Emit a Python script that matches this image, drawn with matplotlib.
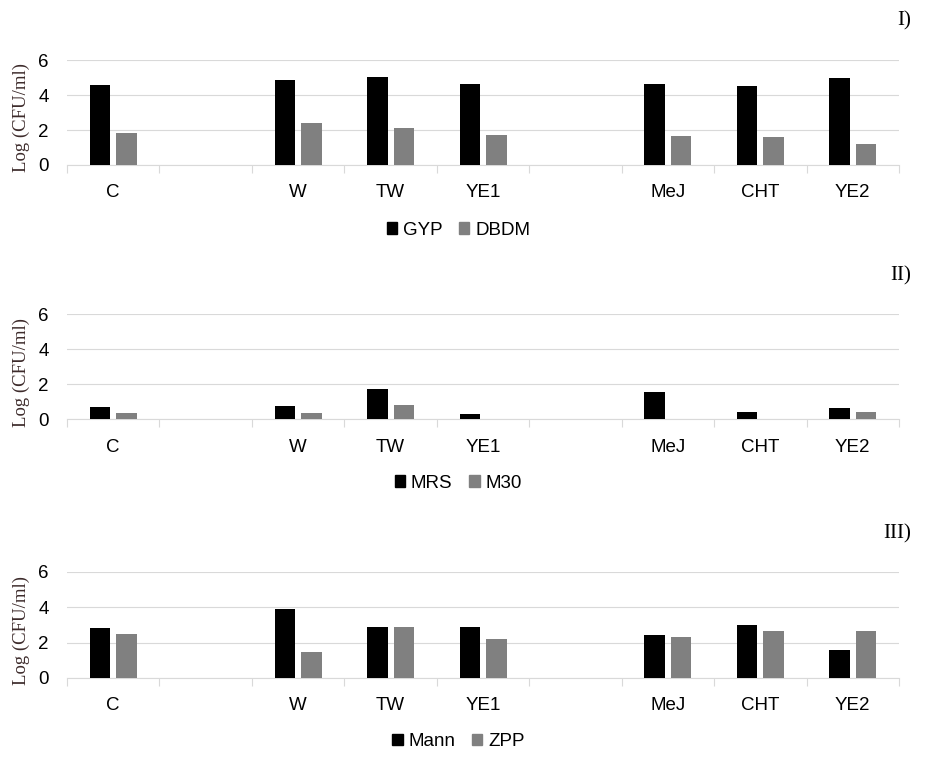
import matplotlib

matplotlib.use("Agg")
import matplotlib.pyplot as plt
import numpy as np
from matplotlib.patches import Patch

# slot order as in the original chart; empty strings are spacer slots
categories = ["C", "", "W", "TW", "YE1", "", "MeJ", "CHT", "YE2"]

gyp = [4.58, np.nan, 4.87, 5.06, 4.62, np.nan, 4.62, 4.53, 4.97]
dbdm = [1.85, np.nan, 2.43, 2.14, 1.72, np.nan, 1.64, 1.60, 1.20]

mrs = [0.69, np.nan, 0.78, 1.73, 0.32, np.nan, 1.54, 0.43, 0.63]
m30 = [0.34, np.nan, 0.34, 0.84, 0.0, np.nan, 0.0, 0.0, 0.42]

mann = [2.81, np.nan, 3.88, 2.86, 2.86, np.nan, 2.45, 2.98, 1.56]
zpp = [2.49, np.nan, 1.49, 2.88, 2.19, np.nan, 2.33, 2.64, 2.66]

panels = [
    ("I)", ("GYP", gyp), ("DBDM", dbdm)),
    ("II)", ("MRS", mrs), ("M30", m30)),
    ("III)", ("Mann", mann), ("ZPP", zpp)),
]
yticks = [0, 2, 4, 6]

BLACK = "#000000"
GRAY = "#808080"
GRID = "#d9d9d9"
SANS = "Liberation Sans"
SERIF = "Liberation Serif"

# axes boxes [left, bottom, width, height] and label anchors, figure fractions
axes_boxes = [
    [0.0722, 0.7863, 0.8966, 0.1356],
    [0.0722, 0.4569, 0.8966, 0.1360],
    [0.0722, 0.1218, 0.8966, 0.1377],
]
legend_y = [0.702, 0.374, 0.039]
tag_y = [0.973, 0.643, 0.308]

fig = plt.figure(figsize=(9.28, 7.72), dpi=100)

x = np.arange(len(categories))
width = 0.222
offset = 0.143

for box, ly, ty, (tag, (name_a, vals_a), (name_b, vals_b)) in zip(
    axes_boxes, legend_y, tag_y, panels
):
    ax = fig.add_axes(box)
    ax.bar(x - offset, vals_a, width, color=BLACK, zorder=3)
    ax.bar(x + offset, vals_b, width, color=GRAY, zorder=3)

    ax.set_xlim(-0.5, len(categories) - 0.5)
    ax.set_ylim(0, 6)
    ax.set_yticks(yticks)
    ax.set_yticklabels([str(t) for t in yticks], fontsize=13.5, family=SANS)
    ax.set_xticks(x)
    ax.set_xticklabels(categories, fontsize=13.5, family=SANS)
    ax.set_xticks(np.arange(len(categories) + 1) - 0.5, minor=True)

    ax.tick_params(axis="y", length=0, pad=13)
    ax.tick_params(axis="x", which="major", length=0, pad=14)
    ax.tick_params(axis="x", which="minor", length=6, width=0.8, color=GRID)

    ax.yaxis.grid(True, color=GRID, linewidth=0.8, zorder=0)
    for side in ("top", "right", "left"):
        ax.spines[side].set_visible(False)
    ax.spines["bottom"].set_color(GRID)
    ax.spines["bottom"].set_linewidth(0.8)

    ax.set_ylabel("Log (CFU/ml)", family=SERIF, fontsize=13.5, color="#3d2b2b",
                  va="center")
    ax.yaxis.set_label_coords(-0.055, 0.45)

    handles = [Patch(color=BLACK, label=name_a), Patch(color=GRAY, label=name_b)]
    fig.legend(handles=handles, loc="center", bbox_to_anchor=(0.494, ly),
               ncol=2, frameon=False, prop={"family": SANS, "size": 13.5},
               handlelength=0.55, handleheight=0.55, handletextpad=0.3,
               columnspacing=0.9)

    fig.text(0.982, ty, tag, ha="right", va="center", family=SERIF, fontsize=15)

fig.savefig("out.png", dpi=100)
